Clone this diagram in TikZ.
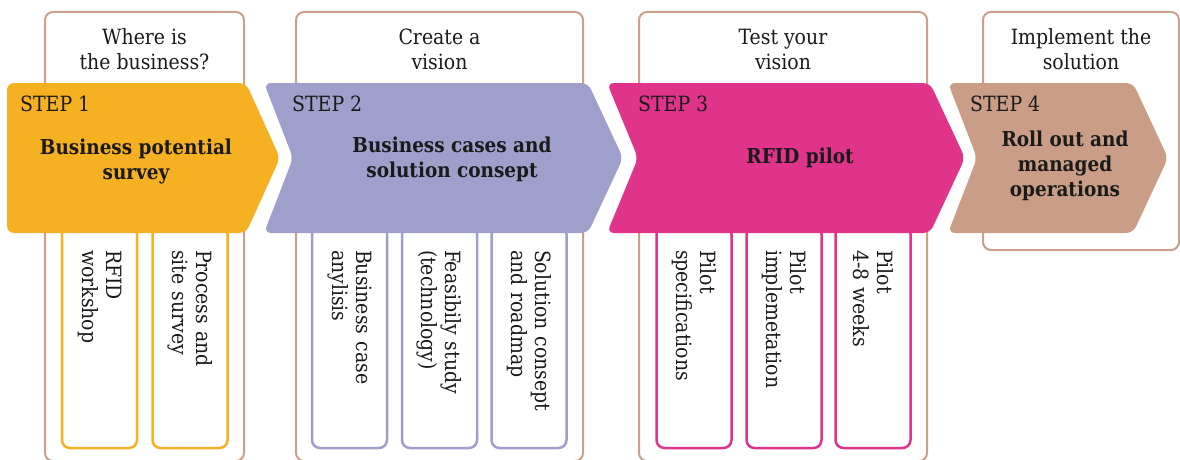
\documentclass[tikz,border=0pt]{standalone}
\usepackage{fontspec}
\setmainfont{DejaVu Serif Condensed}
\usepackage{tikz}
\definecolor{stepyel}{HTML}{F6B122}
\definecolor{steplav}{HTML}{9E9FCB}
\definecolor{stepmag}{HTML}{E0338A}
\definecolor{steptan}{HTML}{C99D86}
\definecolor{frametan}{HTML}{CBA08B}
\definecolor{ink}{HTML}{1A1A1A}
\tikzset{
	frame/.style={draw=frametan,line width=2pt,rounded corners=8pt},
	chevron/.style={rounded corners=7pt},
	head/.style={align=center,text=ink,font=\fontsize{21}{25}\selectfont},
	steplbl/.style={anchor=base west,text=ink,inner sep=0pt,font=\fontsize{21}{24}\selectfont},
	stepname/.style={align=center,text=ink,font=\bfseries\fontsize{20.5}{25}\selectfont},
	subbox/.style={draw=#1,line width=2.5pt,rounded corners=8pt,rotate=-90,fill=white,
		minimum width=222pt,minimum height=75pt,text width=174pt,align=left,inner sep=2pt,
		text=ink,font=\fontsize{21}{24}\selectfont}
}
\begin{document}
\begin{tikzpicture}[x=1pt,y=-1pt]
				\useasboundingbox (0,0) rectangle (1180,460);
				\draw[frame] (45,12) rectangle (244,461);
				\draw[frame] (296,12) rectangle (583,461);
				\draw[frame] (639,12) rectangle (927,461);
				\draw[frame] (983,12) rectangle (1179,250);
				\node[head] (h1) at (144.5,49.5) {Where is\\the business?};
				\node[head] (h2) at (439.5,49.5) {Create a\\vision};
				\node[head] (h3) at (783,49.5) {Test your\\vision};
				\node[head] (h4) at (1081,49.5) {Implement the\\solution};
				\node[subbox=stepyel] (b11) at (99.5,337) {RFID\\workshop};
				\node[subbox=stepyel] (b12) at (190,337) {Process and\\site survey};
				\node[subbox=steplav] (b21) at (349.5,337) {Business case\\anylisis};
				\node[subbox=steplav] (b22) at (439.5,337) {Feasibily study\\(technology)};
				\node[subbox=steplav] (b23) at (529,337) {Solution consept\\and roadmap};
				\node[subbox=stepmag] (b31) at (694,337) {Pilot\\specifications};
				\node[subbox=stepmag] (b32) at (784,337) {Pilot\\implemetation};
				\node[subbox=stepmag] (b33) at (873,337) {Pilot\\4-8 weeks};
				\fill[chevron,stepyel] (7,83) -- (246,83) -- (280,158) -- (246,233) -- (7,233) -- cycle;
				\fill[chevron,steplav] (264,83) -- (588,83) -- (623,158) -- (588,233) -- (264,233) -- (293,158) -- cycle;
				\fill[chevron,stepmag] (607,83) -- (930,83) -- (965,158) -- (930,233) -- (607,233) -- (638,158) -- cycle;
				\fill[chevron,steptan] (948,83) -- (1133,83) -- (1168,158) -- (1133,233) -- (948,233) -- (977,158) -- cycle;
				\node[steplbl] (l1) at (20,111) {STEP 1};
				\node[steplbl] (l2) at (292,111) {STEP 2};
				\node[steplbl] (l3) at (638,111) {STEP 3};
				\node[steplbl] (l4) at (970,111) {STEP 4};
				\node[stepname] (s1) at (136,161) {Business potential\\survey};
				\node[stepname] (s2) at (452,159) {Business cases and\\solution consept};
				\node[stepname] (s3) at (800,158) {RFID pilot};
				\node[stepname] (s4) at (1065,166) {Roll out and\\managed\\operations};
\end{tikzpicture}
\end{document}
